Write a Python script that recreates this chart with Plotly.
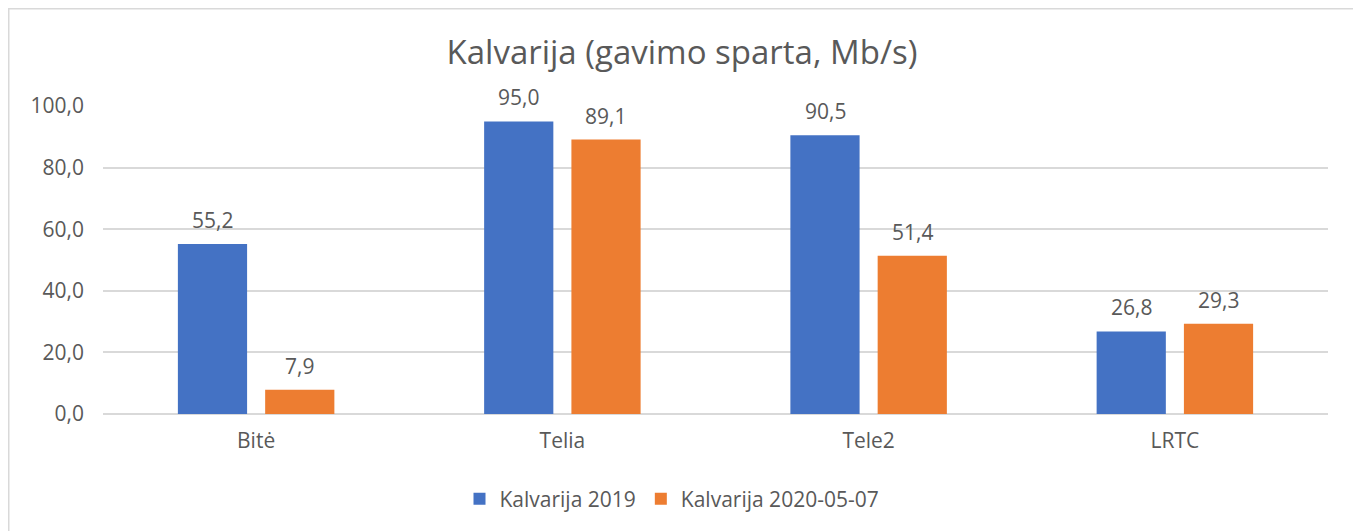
import plotly.graph_objects as go

categories = ["Bitė", "Telia", "Tele2", "LRTC"]
series_names = ["Kalvarija 2019", "Kalvarija 2020-05-07"]
values_2019 = [55.2, 95.0, 90.5, 26.8]
values_2020 = [7.9, 89.1, 51.4, 29.3]
colors = ["#4472C4", "#ED7D31"]
y_ticks = [0, 20, 40, 60, 80, 100]
title_text = "Kalvarija (gavimo sparta, Mb/s)"

FONT = "Open Sans"
TXT = "#595959"
FS = 21

fig = go.Figure()
for name, vals, col in zip(series_names, [values_2019, values_2020], colors):
    fig.add_trace(go.Bar(x=categories, y=vals, name=name, marker_color=col,
                         marker_line_width=0))

def fmt(v):
    return f"{v:.1f}".replace(".", ",")

annotations = []
for shift, vals in zip([-43.5, 43.5], [values_2019, values_2020]):
    for c, v in zip(categories, vals):
        annotations.append(dict(x=c, y=v, xref="x", yref="y", text=fmt(v),
                                showarrow=False, xshift=shift, yshift=8,
                                yanchor="bottom",
                                font=dict(family=FONT, size=FS, color=TXT)))

# page body has an 8px margin; figure coordinates are compensated for it
W, H = 1353, 523
L, T = 95, 98
PW, PH = 1225, 308
R = W - L - PW
B = H - T - PH

fig.update_layout(
    width=W, height=H,
    margin=dict(l=L, r=R, t=T, b=B),
    paper_bgcolor="white", plot_bgcolor="white",
    separators=", ",
    barmode="group", bargap=0.43, bargroupgap=0.207,
    title=dict(text=title_text, x=(674 - L) / PW, xref="paper", xanchor="center",
               y=1 - 44 / H, yref="container", yanchor="middle",
               font=dict(family=FONT, size=33, color=TXT)),
    font=dict(family=FONT, size=FS, color=TXT),
    legend=dict(orientation="h", x=(664 - L) / PW, xanchor="center",
                y=-(491 - T - PH) / PH, yanchor="middle",
                font=dict(family=FONT, size=FS, color=TXT),
                itemwidth=30, tracegroupgap=0),
    annotations=annotations,
    shapes=[dict(type="rect", xref="paper", yref="paper",
                 x0=(0.75 - L) / PW, x1=(1349 - L) / PW,
                 y0=-0.5, y1=(T + PH - 0.75) / PH,
                 line=dict(color="#D9D9D9", width=1.5), fillcolor="rgba(0,0,0,0)",
                 layer="below")],
)
fig.update_yaxes(range=[0, 100], tickvals=y_ticks, tickformat=".1f",
                 showgrid=True, gridcolor="#D9D9D9", gridwidth=1.5,
                 zeroline=True, zerolinecolor="#D9D9D9", zerolinewidth=1.5,
                 showline=False, ticks="", ticklabelstandoff=18,
                 tickfont=dict(family=FONT, size=FS, color=TXT))
fig.update_xaxes(showgrid=False, showline=False, ticks="", ticklabelstandoff=12,
                 tickfont=dict(family=FONT, size=FS, color=TXT))

fig.write_html("out.html")
